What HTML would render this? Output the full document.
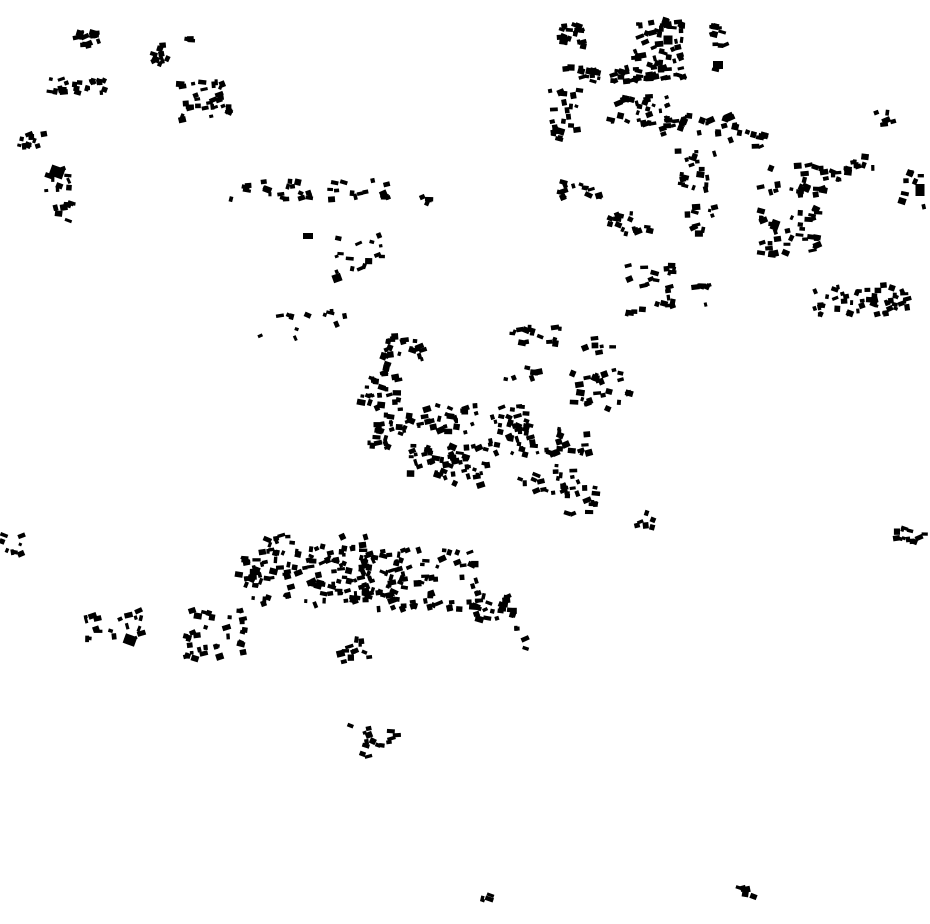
<!DOCTYPE html>
<html><head><meta charset="utf-8"><style>
html,body{margin:0;padding:0;background:#fff;width:930px;height:924px;overflow:hidden}
svg{display:block}
</style></head><body>
<svg id="s" width="930" height="924" viewBox="0 0 930 924" xmlns="http://www.w3.org/2000/svg"><rect width="930" height="924" fill="#fff"/><g id="g" fill="#000"></g></svg>
<script>
var seed=12345;function r(){seed=(seed*1103515245+12345)%2147483648;return seed/2147483648;}
var C=[
[88,38,15,8,15],[160,55,12,10,10],[190,38,5,3,3],[75,85,30,8,25],[205,100,25,20,30],[30,140,15,8,10],
[60,180,15,12,10],[65,212,10,12,8],[270,190,40,10,20],[360,190,30,10,15],[360,255,25,20,15],[425,200,6,4,4],
[572,35,12,12,20],[660,50,25,30,60],[720,50,8,25,12],[600,75,40,8,30],[565,115,15,25,25],[640,110,30,15,30],
[700,125,40,10,25],[750,140,20,10,10],[690,170,25,20,20],[580,190,20,10,15],[630,225,20,12,15],[700,220,15,15,10],
[650,290,25,25,25],[700,295,10,10,6],[800,180,40,15,30],[860,165,15,10,10],[885,115,10,10,6],[910,190,15,20,8],
[790,230,30,25,35],[860,300,50,15,50],
[300,325,45,15,12],[400,355,25,20,25],[535,335,25,10,15],[600,345,15,8,6],[520,375,20,8,6],[600,390,30,20,25],
[380,390,20,15,20],[450,420,80,15,60],[540,440,50,15,40],[450,465,40,20,50],[550,480,30,15,20],[580,500,20,15,15],
[380,440,15,10,8],[645,520,8,8,6],[910,535,15,8,12],[12,545,12,10,8],
[310,570,60,35,120],[420,580,60,30,90],[490,605,25,15,25],[250,570,12,15,12],[520,640,8,12,4],
[115,625,30,15,20],[215,635,30,25,35],[355,650,15,12,12],[375,745,25,20,15],[490,897,8,4,4],[750,892,12,5,5]
];
var big=[[57,172,14,11,20],[130,640,12,10,20],[718,65,10,8,0],[920,190,9,12,0],[337,278,9,8,-20],[308,236,10,6,0],[775,225,8,10,20],[668,40,9,9,0]];
var h='';
C.forEach(function(c){for(var i=0;i<c[4];i++){var x=c[0]+(r()*2-1)*c[2],y=c[1]+(r()*2-1)*c[3];var w=3+r()*5.5,hh=3+r()*3.5,a=(r()*2-1)*25;
h+='<rect x="'+(x-w/2).toFixed(1)+'" y="'+(y-hh/2).toFixed(1)+'" width="'+w.toFixed(1)+'" height="'+hh.toFixed(1)+'" transform="rotate('+a.toFixed(0)+' '+x.toFixed(1)+' '+y.toFixed(1)+')"/>';}});
big.forEach(function(b){h+='<rect x="'+(b[0]-b[2]/2)+'" y="'+(b[1]-b[3]/2)+'" width="'+b[2]+'" height="'+b[3]+'" transform="rotate('+b[4]+' '+b[0]+' '+b[1]+')"/>';});
document.getElementById('g').innerHTML=h;
</script>
</body></html>
